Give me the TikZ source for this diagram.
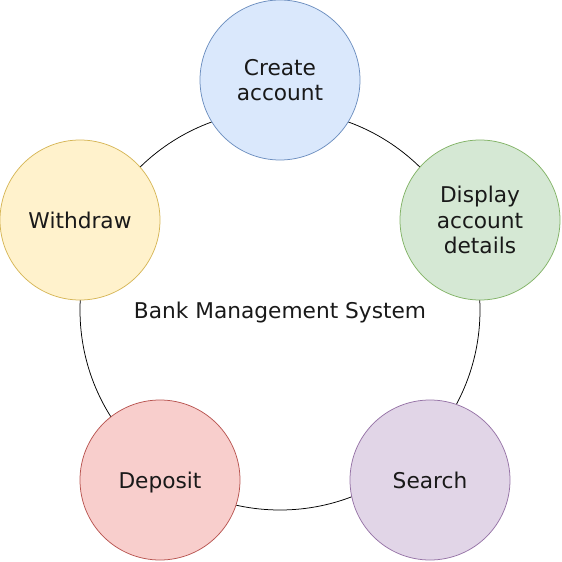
\documentclass[tikz,border=0pt]{standalone}
\usepackage{fontspec}
\setmainfont{DejaVu Sans}
\definecolor{bluef}{HTML}{DAE8FC}\definecolor{blued}{HTML}{6C8EBF}
\definecolor{greenf}{HTML}{D5E8D4}\definecolor{greend}{HTML}{82B366}
\definecolor{yellowf}{HTML}{FFF2CC}\definecolor{yellowd}{HTML}{D6B656}
\definecolor{redf}{HTML}{F8CECC}\definecolor{redd}{HTML}{B85450}
\definecolor{purplef}{HTML}{E1D5E7}\definecolor{purpled}{HTML}{9673A6}
\begin{document}
\begin{tikzpicture}[x=1pt,y=-1pt,
  txt/.style={font=\fontsize{21.7}{25.7}\selectfont, text=black!90, align=center},
  oneline/.style={text height=16.4pt, text depth=0pt},
  small/.style={circle, minimum size=160pt, inner sep=0pt, line width=0.75pt, txt}]
\useasboundingbox (0,0) rectangle (562,562);
\node[circle, draw=black, line width=0.75pt, minimum size=400pt, inner sep=0pt, txt, oneline] (sys) at (280,310) {Bank Management System};
\node[small, draw=blued, fill=bluef] (create) at (280,80) {Create\\account};
\node[small, draw=greend, fill=greenf] (display) at (480,220) {Display\\account\\details};
\node[small, oneline, draw=yellowd, fill=yellowf] (withdraw) at (80,220) {Withdraw};
\node[small, oneline, draw=redd, fill=redf] (deposit) at (160,480) {Deposit};
\node[small, oneline, draw=purpled, fill=purplef] (search) at (430,480) {Search};
\end{tikzpicture}
\end{document}
